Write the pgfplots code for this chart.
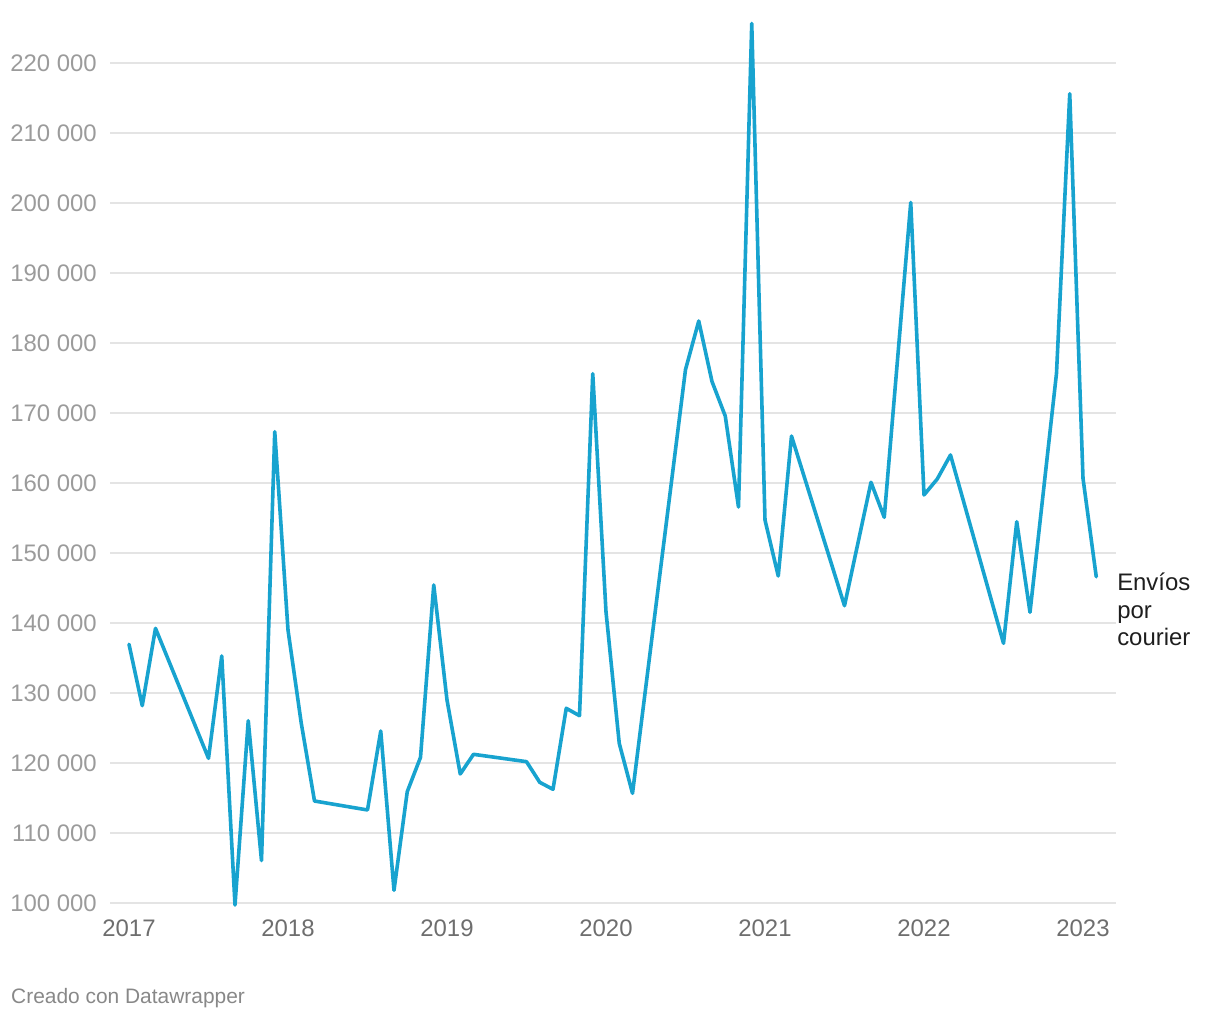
\documentclass[border=0pt]{standalone}
\usepackage{pgfplots}
\pgfplotsset{compat=1.18}
\usepackage{fontspec}
\setmainfont{Liberation Sans}
\definecolor{dwblue}{RGB}{24,163,207}
\definecolor{gridc}{RGB}{228,228,228}
\definecolor{ylab}{RGB}{155,155,155}
\definecolor{xlab}{RGB}{110,110,110}
\definecolor{credit}{RGB}{136,136,136}
\definecolor{lab}{RGB}{30,30,30}
\begin{document}
\begin{tikzpicture}
\begin{axis}[
  name=ax,
  scale only axis,
  width=1006bp, height=882bp,
  xmin=-1.434, xmax=74.49,
  ymin=100000, ymax=226000,
  clip=false,
  scaled y ticks=false,
  scaled x ticks=false,
  axis line style={draw=none},
  major tick length=0pt,
  /pgf/number format/assume math mode=true,
  xtick={0,12,24,36,48,60,72},
  xticklabels={2017,2018,2019,2020,2021,2022,2023},
  ytick={100000,110000,120000,130000,140000,150000,160000,170000,180000,190000,200000,210000,220000},
  yticklabels={100 000,110 000,120 000,130 000,140 000,150 000,160 000,170 000,180 000,190 000,200 000,210 000,220 000},
  ymajorgrids,
  grid style={gridc, line width=1.6bp},
  yticklabel style={font=\fontsize{24}{28}\selectfont, text=ylab, anchor=east, inner sep=0pt, xshift=-13bp},
  xticklabel style={font=\fontsize{24}{28}\selectfont, text=xlab, anchor=north, inner sep=0pt, yshift=-17bp},
]
\addplot[dwblue, line width=3.6bp, line join=round, line cap=round] coordinates {
(0,136960) (1,128190) (2,139240) (6,120670) (7,135290) (8,99710) (9,126040) (10,106060) (11,167330)
(12,139000) (13,125700) (14,114570) (18,113290) (19,124570) (20,101810) (21,115900) (22,120800) (23,145430)
(24,129000) (25,118430) (26,121240) (30,120190) (31,117240) (32,116240) (33,127810) (34,126760) (35,175610)
(36,141610) (37,122810) (38,115670) (42,176200) (43,183140) (44,174500) (45,169570) (46,156570) (47,225650)
(48,154710) (49,146710) (50,166710) (54,142470) (56,160100) (57,155100) (59,200070)
(60,158290) (61,160570) (62,164000) (66,137100) (67,154470) (68,141530) (70,175670) (71,215600)
(72,160670) (73,146610)
};
\node[anchor=base west, align=left, inner sep=0pt, text=lab, font=\fontsize{24}{28}\selectfont]
  at (axis cs:74.57,136714) {Envíos\\por\\courier};
\end{axis}
\node[anchor=base west, inner sep=0pt, text=credit, font=\fontsize{21}{25}\selectfont]
  at ([xshift=-99bp,yshift=-100bp]ax.south west) {Creado con Datawrapper};
\path[use as bounding box] ([xshift=-110bp,yshift=-117bp]ax.south west) rectangle ++(1220bp,1020bp);
\end{tikzpicture}
\end{document}
